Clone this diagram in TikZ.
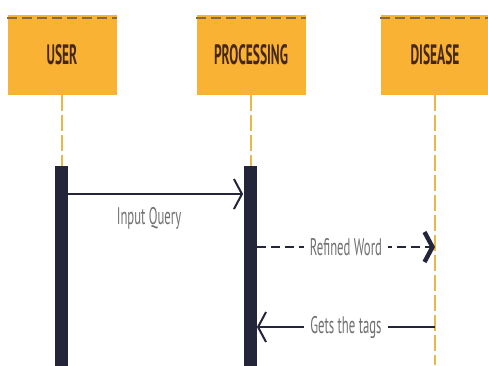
\documentclass[tikz,border=0pt]{standalone}
\usepackage{fontspec}
\setmainfont{PT Sans}
\usetikzlibrary{positioning, arrows.meta}
\definecolor{headorange}{HTML}{F9B233}
\definecolor{headdash}{HTML}{8A6A3A}
\definecolor{headtext}{HTML}{45281A}
\definecolor{barnavy}{HTML}{24243A}
\definecolor{msggray}{HTML}{707070}
\definecolor{lifeline}{HTML}{E8B84A}
\newcommand{\narrow}[2][0.53]{\scalebox{#1}[1]{#2}}

\begin{document}
\begin{tikzpicture}[x=0.5pt,y=-0.5pt,
    head/.style={fill=headorange, minimum width=54.5pt, minimum height=40pt,
      inner sep=0pt, font=\bfseries\fontsize{14}{15}\selectfont, text=headtext},
    bar/.style={fill=barnavy, minimum width=6.5pt, minimum height=100pt, inner sep=0pt},
    life/.style={draw=lifeline, dash pattern=on 8pt off 2pt, line width=0.6pt},
    msg/.style={line width=1pt, draw=barnavy},
    lbl/.style={fill=white, text=msggray, font=\fontsize{12}{13}\selectfont, inner sep=0pt, minimum width=42pt, minimum height=9pt}]
  \useasboundingbox (0,0) rectangle (488,365);

  % participants
  \node[head] (user) at (62,55) {\narrow[0.48]{USER}};
  \node[head] (proc) at (251,55) {\narrow[0.48]{PROCESSING}};
  \node[head] (dis) at (435,55) {\narrow[0.48]{DISEASE}};
  \foreach \n in {user,proc,dis}
    \draw[headdash, line width=1pt, dash pattern=on 5pt off 2.5pt] ([yshift=-1.5pt]\n.north west) -- ([yshift=-1.5pt]\n.north east);

  % lifelines
  \draw[life] (user.south) -- (62,170);
  \draw[life] (proc.south) -- (251,170);
  \draw[life] (dis.south) -- (435,365);

  % activations
  \node[bar, anchor=north] (userbar) at (61,166) {};
  \node[bar, anchor=north] (procbar) at (250,166) {};
  \coordinate (disline) at (435,0);

  % messages
  \draw[msg, -{Straight Barb[length=4pt, width=15pt, line width=1pt]}] (userbar.east |- 0,194) -- (procbar.west |- 0,194);
  \node[lbl, fill=none] at (149,218) {\narrow{Input Query}};
  \draw[msg, dash pattern=on 4.5pt off 2.5pt, line width=1.4pt, -{Straight Barb[length=4pt, width=15pt, line width=2.2pt]}]
    (procbar.east |- 0,247) -- (disline |- 0,247) node[lbl, pos=0.5] {\narrow{Refined Word}};
  \draw[msg, line width=1.2pt, -{Straight Barb[length=4pt, width=15pt, line width=1pt]}]
    (disline |- 0,327) -- (procbar.east |- 0,327) node[lbl, pos=0.5] {\narrow{Gets the tags}};
\end{tikzpicture}
\end{document}
